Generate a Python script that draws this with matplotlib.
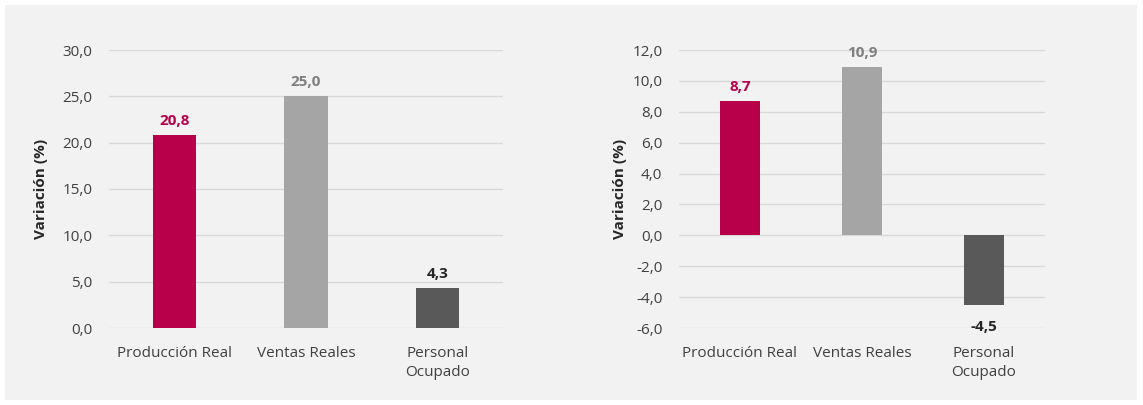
import matplotlib.pyplot as plt
from matplotlib.patches import Rectangle
from matplotlib.ticker import FuncFormatter

plt.rcParams['font.family'] = ['Open Sans', 'DejaVu Sans']

# Datos
categorias = ['Producción Real', 'Ventas Reales', 'Personal\nOcupado']
valores_izq = [20.8, 25.0, 4.3]
valores_der = [8.7, 10.9, -4.5]
colores = ['#B8004A', '#A5A5A5', '#595959']
colores_etq = ['#B8004A', '#7F7F7F', '#262626']

fig = plt.figure(figsize=(11.43, 4.05), dpi=100, facecolor='white')
fig.patches.append(Rectangle((5 / 1143, 5 / 405), 1132 / 1143, 395 / 405,
                             transform=fig.transFigure, facecolor='#F2F2F2',
                             edgecolor='none', zorder=-10))

fmt = FuncFormatter(lambda v, p: f'{v:.1f}'.replace('.', ','))


def grafico(ax, valores, ylim, paso, ancho, despl):
    x = range(len(categorias))
    ax.set_facecolor('none')
    ax.bar(x, valores, width=ancho, color=colores, zorder=3)
    for xi, v, c in zip(x, valores, colores_etq):
        if v >= 0:
            ax.annotate(f'{v:.1f}'.replace('.', ','), (xi, v), xytext=(0, 5),
                        textcoords='offset points', ha='center', va='bottom',
                        color=c, fontsize=11, fontweight='bold')
        else:
            ax.annotate(f'{v:.1f}'.replace('.', ','), (xi, v), xytext=(0, -11),
                        textcoords='offset points', ha='center', va='top',
                        color=c, fontsize=11, fontweight='bold')
    ax.set_ylim(*ylim)
    ax.set_xlim(-0.5, len(categorias) - 0.5)
    ax.set_yticks([ylim[0] + i * paso for i in range(int((ylim[1] - ylim[0]) / paso) + 1)])
    ax.yaxis.set_major_formatter(fmt)
    ax.grid(axis='y', color='#D9D9D9', linewidth=1, zorder=0)
    for s in ax.spines.values():
        s.set_visible(False)
    ax.tick_params(length=0, labelsize=11, labelcolor='#404040')
    ax.tick_params(axis='x', pad=13)
    ax.tick_params(axis='y', pad=12)
    ax.set_xticks(list(x))
    ax.set_xticklabels(categorias, linespacing=1.35)
    ax.set_ylabel('Variación (%)', fontsize=11, fontweight='bold',
                  color='#262626', labelpad=despl)


ax1 = fig.add_axes([109 / 1143, 77 / 405, 394 / 1143, 278 / 405])
grafico(ax1, valores_izq, (0, 30), 5, 0.33, 10)

ax2 = fig.add_axes([679 / 1143, 77 / 405, 366 / 1143, 278 / 405])
grafico(ax2, valores_der, (-6, 12), 2, 0.32, 4)

fig.savefig('out.png', dpi=100, facecolor='white')
